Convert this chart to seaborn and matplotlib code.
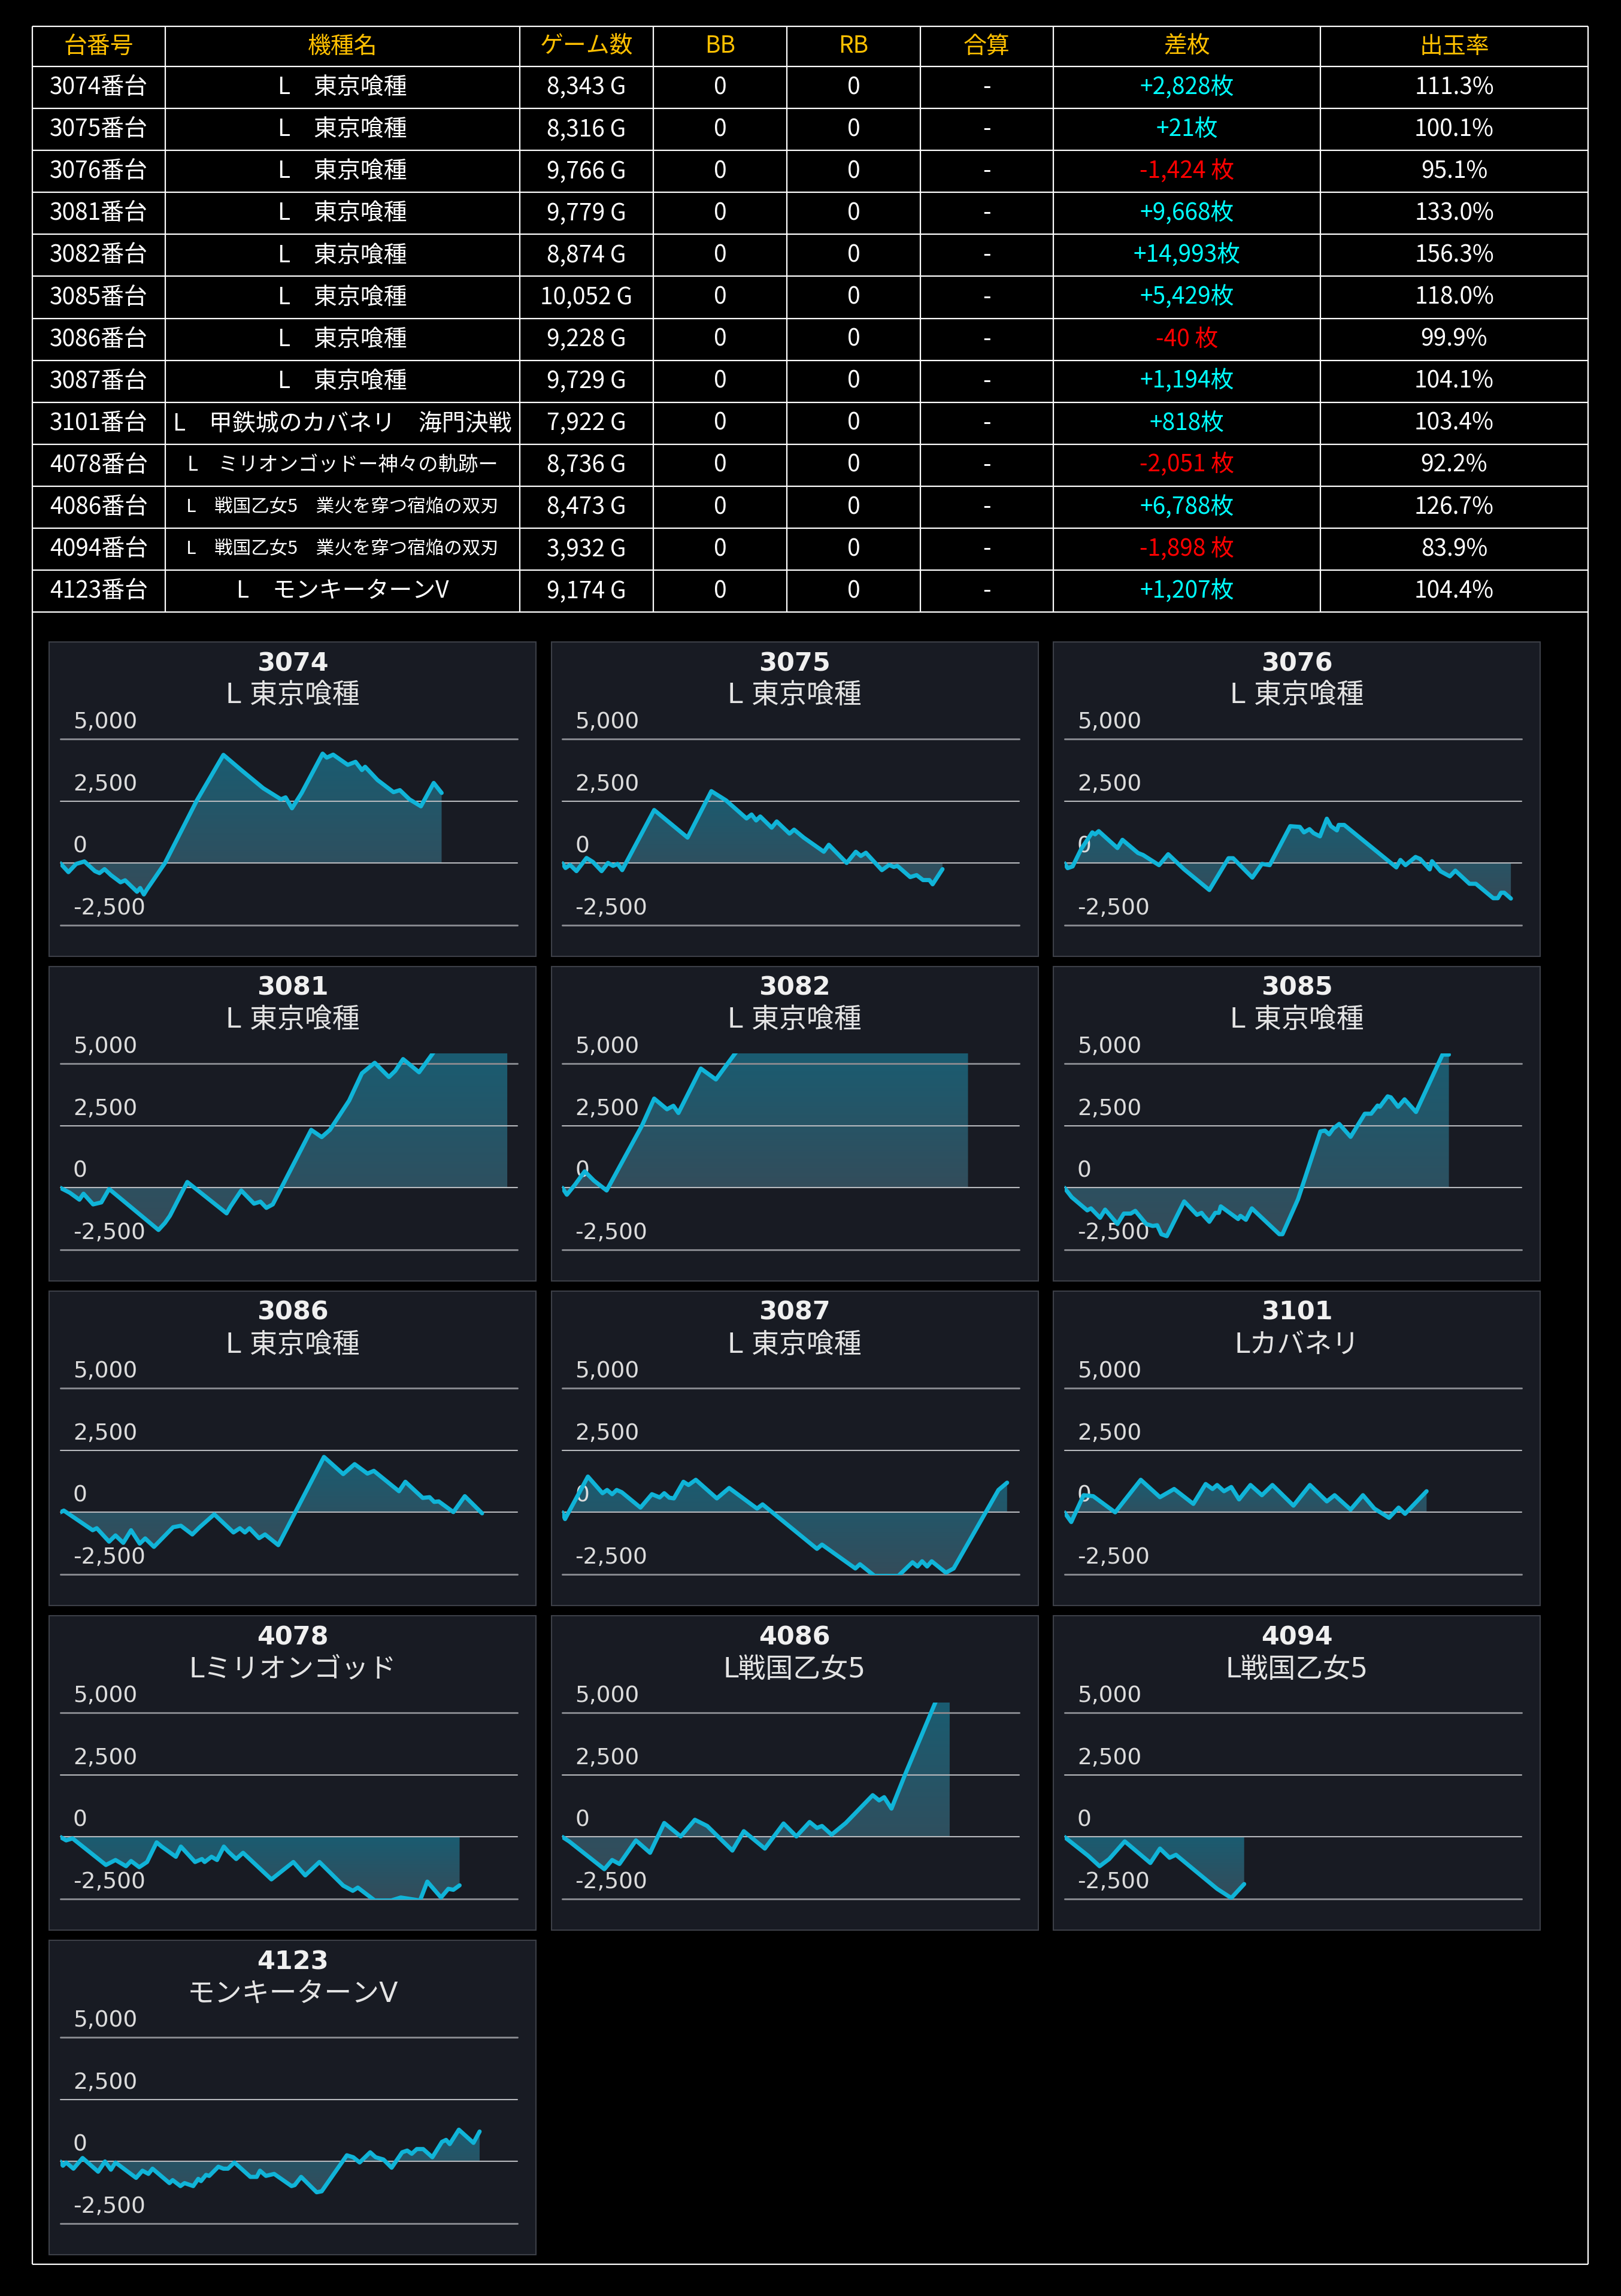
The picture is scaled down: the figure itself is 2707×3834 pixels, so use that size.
import numpy as np
import pandas as pd
import matplotlib
matplotlib.use('Agg')
import matplotlib.pyplot as plt
from matplotlib.patches import Rectangle
from matplotlib.colors import LinearSegmentedColormap
import seaborn as sns

sns.set_theme(style='dark')
plt.rcParams['font.family'] = ['Noto Sans CJK JP', 'DejaVu Sans']

W, H = 2707, 3834

# ---- table data ----
header = ['台番号', '機種名', 'ゲーム数', 'BB', 'RB', '合算', '差枚', '出玉率']
unit_ids = ['3074', '3075', '3076', '3081', '3082', '3085', '3086', '3087',
            '3101', '4078', '4086', '4094', '4123']
model_names = ['L\u3000東京喰種', 'L\u3000東京喰種', 'L\u3000東京喰種', 'L\u3000東京喰種',
               'L\u3000東京喰種', 'L\u3000東京喰種', 'L\u3000東京喰種', 'L\u3000東京喰種',
               'L\u3000甲鉄城のカバネリ\u3000海門決戦',
               'L\u3000ミリオンゴッドー神々の軌跡ー',
               'L\u3000戦国乙女5\u3000業火を穿つ宿焔の双刃',
               'L\u3000戦国乙女5\u3000業火を穿つ宿焔の双刃',
               'L\u3000モンキーターンV']
game_counts = [8343, 8316, 9766, 9779, 8874, 10052, 9228, 9729, 7922, 8736, 8473, 3932, 9174]
bb_counts = [0, 0, 0, 0, 0, 0, 0, 0, 0, 0, 0, 0, 0]
rb_counts = [0, 0, 0, 0, 0, 0, 0, 0, 0, 0, 0, 0, 0]
combined = ['-'] * 13
diff_coins = [2828, 21, -1424, 9668, 14993, 5429, -40, 1194, 818, -2051, 6788, -1898, 1207]
payout_rates = [111.3, 100.1, 95.1, 133.0, 156.3, 118.0, 99.9, 104.1, 103.4, 92.2, 126.7, 83.9, 104.4]

# ---- chart data (x: games, y: coin difference) ----
panel_names = ['L 東京喰種', 'L 東京喰種', 'L 東京喰種', 'L 東京喰種', 'L 東京喰種',
               'L 東京喰種', 'L 東京喰種', 'L 東京喰種', 'Lカバネリ', 'Lミリオンゴッド',
               'L戦国乙女5', 'L戦国乙女5', 'モンキーターンV']

g_3074 = [0, 180, 350, 530, 760, 860, 970, 1110, 1320, 1420, 1680, 1750, 1830, 1900, 2290,
          2990, 3570, 3960, 4440, 4830, 4930, 5070, 5280, 5740, 5830, 5970, 6290, 6460,
          6600, 6670, 6940, 7290, 7430, 7640, 7890, 8170, 8343]
d_3074 = [0, -360, -30, 70, -320, -400, -240, -480, -770, -690, -1150, -1000, -1260, -1050, 0,
          2530, 4360, 3750, 3020, 2570, 2650, 2210, 2820, 4410, 4250, 4370, 3960, 4080,
          3750, 3880, 3350, 2860, 2940, 2570, 2290, 3230, 2828]

g_3075 = [0, 70, 170, 310, 530, 670, 860, 1000, 1110, 1210, 1310, 2010, 2740, 3260, 3580,
          4030, 4140, 4240, 4330, 4580, 4690, 4970, 5070, 5280, 5720, 5830, 6220, 6420,
          6530, 6640, 6990, 7150, 7250, 7330, 7610, 7750, 7890, 8030, 8100, 8316]
d_3075 = [0, -195, -70, -320, 210, 50, -320, 10, -110, -30, -280, 2140, 1030, 2900, 2530,
          1800, 1960, 1720, 1880, 1430, 1680, 1190, 1350, 1030, 460, 740, 10, 460,
          290, 420, -280, -70, -150, -110, -560, -480, -680, -680, -850, -240]

g_3076 = [0, 70, 180, 370, 610, 670, 750, 1160, 1270, 1610, 1720, 2070, 2270, 2620, 3170,
          3590, 3690, 4110, 4320, 4490, 4940, 5150, 5240, 5360, 5450, 5590, 5740, 5830,
          5960, 6000, 6120, 7260, 7350, 7460, 7680, 7780, 7990, 8040, 8230, 8430, 8550,
          8860, 9000, 9380, 9480, 9550, 9620, 9766]
d_3076 = [0, -200, -130, 580, 1240, 1160, 1290, 610, 940, 410, 330, -80, 360, -250, -1080,
          200, 200, -580, -30, -80, 1490, 1460, 1240, 1370, 1210, 1080, 1790, 1490,
          1320, 1540, 1540, -170, 130, -80, 250, 170, -250, 80, -330, -530, -300,
          -830, -830, -1410, -1410, -1190, -1190, -1424]

g_3081 = [0, 210, 420, 510, 720, 900, 1070, 2150, 2290, 2400, 2780, 3640, 3720, 3960, 4240,
          4380, 4510, 4650, 5490, 5720, 5900, 6320, 6600, 6880, 7190, 7330, 7500, 7850,
          8150, 8700, 9250, 9779]
d_3081 = [0, -200, -480, -240, -670, -590, -50, -1700, -1420, -1130, 230, -1030, -770, -110, -640,
          -560, -810, -670, 2330, 2040, 2330, 3510, 4610, 5030, 4460, 4710, 5180, 4650,
          5410, 6900, 8300, 9668]

g_3082 = [0, 100, 280, 490, 690, 970, 1740, 2010, 2290, 2430, 2540, 3030, 3360, 3780,
          5200, 7000, 8874]
d_3082 = [0, -280, 130, 660, 290, -110, 2490, 3590, 3160, 3300, 3010, 4800, 4360, 5410,
          8600, 11800, 14993]

g_3085 = [0, 160, 500, 580, 780, 890, 1160, 1300, 1450, 1550, 1790, 1930, 2030, 2120, 2240,
          2620, 2900, 3000, 3050, 3170, 3300, 3380, 3420, 3800, 3850, 3970, 4100, 4700,
          4770, 5110, 5600, 5700, 5790, 5880, 6010, 6260, 6570, 6710, 6850, 6900, 7070,
          7140, 7300, 7440, 7690, 8270, 8410]
d_3085 = [0, -380, -910, -830, -1210, -880, -1460, -1040, -1040, -930, -1460, -1540, -1510, -1870, -1950,
          -550, -1090, -1010, -1130, -1370, -1010, -1010, -750, -1260, -1130, -1290, -830, -1870,
          -1870, -460, 2270, 2300, 2150, 2380, 2570, 2050, 2980, 2980, 3310, 3260, 3680,
          3640, 3260, 3560, 3050, 5360, 5360]

g_3086 = [0, 80, 710, 800, 1070, 1210, 1380, 1550, 1740, 1860, 2050, 2470, 2640, 2890, 3050,
          3370, 3790, 3930, 4040, 4140, 4350, 4480, 4770, 5770, 6190, 6440, 6720, 6860,
          7410, 7550, 7930, 8080, 8180, 8280, 8600, 8850, 9228]
d_3086 = [0, 70, -720, -640, -1180, -930, -1230, -720, -1260, -1050, -1390, -600, -540, -890, -600,
          -80, -810, -640, -810, -640, -1040, -890, -1320, 2230, 1540, 1940, 1560, 1670,
          850, 1230, 580, 610, 420, 440, 10, 650, -40]

g_3087 = [0, 60, 560, 880, 980, 1090, 1190, 1300, 1710, 1960, 2130, 2230, 2340, 2440, 2650,
          2760, 2920, 3380, 3650, 4260, 4380, 5570, 5680, 6410, 6510, 6830, 7090, 7350,
          7660, 7770, 7870, 7980, 8080, 8390, 8560, 9540, 9729]
d_3087 = [0, -270, 1440, 770, 900, 730, 900, 810, 190, 730, 600, 770, 590, 560, 1230,
          1100, 1310, 560, 980, 150, 320, -1470, -1300, -2260, -2090, -2560, -2560, -2560,
          -2010, -2180, -1970, -2180, -1970, -2430, -2260, 900, 1194]

g_3101 = [0, 150, 420, 630, 1110, 1670, 2090, 2400, 2820, 3090, 3240, 3340, 3490, 3650, 3820,
          4070, 4320, 4550, 5010, 5370, 5740, 5910, 6260, 6530, 6780, 7100, 7310, 7450, 7922]
d_3101 = [0, -390, 690, 650, 0, 1310, 610, 940, 340, 1140, 940, 1100, 850, 1020, 520,
          1100, 690, 1100, 270, 1100, 440, 690, 110, 690, 150, -220, 190, -60, 850]

g_4078 = [0, 130, 270, 1000, 1210, 1440, 1550, 1730, 1900, 2110, 2220, 2530, 2640, 2950, 3100,
          3160, 3310, 3430, 3580, 3680, 3850, 4000, 4620, 5100, 5360, 5670, 6190, 6400,
          6510, 6880, 7240, 7450, 7870, 8030, 8330, 8490, 8600, 8736]
d_4078 = [0, -140, -60, -1130, -930, -1180, -970, -1220, -1010, -220, -390, -800, -390, -1010, -890,
          -1010, -800, -930, -390, -600, -890, -640, -1710, -1010, -1550, -1010, -1960, -2170,
          -2040, -2560, -2560, -2440, -2560, -1800, -2440, -2090, -2130, -1950]

g_4086 = [0, 150, 920, 1090, 1250, 1610, 1920, 2230, 2590, 2900, 3170, 3720, 3970, 4430, 4840,
          5120, 5410, 5570, 5680, 5890, 6200, 6790, 6930, 7040, 7200, 7500, 8473]
d_4086 = [0, -180, -1300, -930, -1090, -140, -640, 560, 20, 690, 440, -550, 230, -470, 540,
          20, 600, 360, 440, 90, 560, 1680, 1470, 1600, 1140, 2520, 6788]

g_4094 = [0, 520, 770, 980, 1320, 1880, 2090, 2300, 2440, 2820, 3340, 3650, 3932]
d_4094 = [0, -760, -1180, -890, -180, -1050, -470, -840, -720, -1300, -2090, -2460, -1898]

g_4123 = [0, 60, 130, 290, 490, 830, 980, 1110, 1210, 1660, 1800, 1930, 2020, 2390, 2460,
          2630, 2720, 2910, 3020, 3080, 3190, 3260, 3460, 3570, 3670, 3810, 4160, 4300,
          4370, 4500, 4680, 5060, 5130, 5270, 5610, 5720, 6270, 6410, 6550, 6780, 6900,
          7070, 7250, 7480, 7590, 7690, 7800, 7940, 8140, 8350, 8440, 8520, 8720, 9040, 9174]
d_4123 = [0, -170, -40, -290, 140, -410, 0, -330, -40, -660, -370, -500, -290, -870, -750,
          -990, -870, -990, -700, -790, -540, -580, -210, -290, -290, -40, -620, -620,
          -370, -580, -500, -990, -950, -620, -1240, -1200, 250, 170, -40, 370, 170,
          80, -250, 370, 440, 310, 500, 500, 170, 790, 870, 700, 1280, 750, 1207]

series = {
    '3074': (g_3074, d_3074), '3075': (g_3075, d_3075), '3076': (g_3076, d_3076),
    '3081': (g_3081, d_3081), '3082': (g_3082, d_3082), '3085': (g_3085, d_3085),
    '3086': (g_3086, d_3086), '3087': (g_3087, d_3087), '3101': (g_3101, d_3101),
    '4078': (g_4078, d_4078), '4086': (g_4086, d_4086), '4094': (g_4094, d_4094),
    '4123': (g_4123, d_4123),
}
y_ticks = [5000, 2500, 0, -2500]
X_MAX = 10000
Y_LIM = (-2530, 5420)

# colours
LINE = '#10b4d8'
PANEL_BG = '#181b23'
fill_cmap = LinearSegmentedColormap.from_list('fill', ['#344c5a', '#1a5c71'])

fig = plt.figure(figsize=(W / 100, H / 100), dpi=100, facecolor='black')

# overlay in pixel coordinates for table and panel boxes
ov = fig.add_axes([0, 0, 1, 1])
ov.set_xlim(0, W)
ov.set_ylim(H, 0)
ov.set_axis_off()

col_edges = [54, 276, 868, 1091, 1314, 1537, 1759, 2205, 2652]
row_edges = [44, 111] + [111 + 70.1 * i for i in range(1, 14)]
ov.hlines(row_edges, col_edges[0], col_edges[-1], color='white', lw=1.6)
ov.vlines(col_edges, row_edges[0], row_edges[-1], color='white', lw=1.6)
ov.vlines([col_edges[0], col_edges[-1]], row_edges[-1], 3781, color='white', lw=1.6)
ov.hlines(3781, col_edges[0], col_edges[-1], color='white', lw=1.6)

col_mid = [(a + b) / 2 for a, b in zip(col_edges[:-1], col_edges[1:])]
for j, h in enumerate(header):
    ov.text(col_mid[j], (row_edges[0] + row_edges[1]) / 2, h, ha='center', va='center',
            color='#ffc000', fontsize=28)

name_sizes = {'4078': 24, '4086': 22, '4094': 22}
for i, uid in enumerate(unit_ids):
    yc = (row_edges[i + 1] + row_edges[i + 2]) / 2
    dv = diff_coins[i]
    dtxt = f'+{dv:,}枚' if dv >= 0 else f'{dv:,} 枚'
    dcol = '#00ffff' if dv >= 0 else '#ff0000'
    cells = [(f'{uid}番台', 'white', 28),
             (model_names[i], 'white', name_sizes.get(uid, 28)),
             (f'{game_counts[i]:,} G', 'white', 28),
             (str(bb_counts[i]), 'white', 28),
             (str(rb_counts[i]), 'white', 28),
             (combined[i], 'white', 28),
             (dtxt, dcol, 28),
             (f'{payout_rates[i]:.1f}%', 'white', 28)]
    for j, (txt, colr, fs) in enumerate(cells):
        ov.text(col_mid[j], yc, txt, ha='center', va='center', color=colr, fontsize=fs)

# ---- small charts ----
PW, PH = 813, 525
for k, uid in enumerate(unit_ids):
    r, c = divmod(k, 3)
    left = 82 + c * 838.5
    top = 1072 + r * 542
    ov.add_patch(Rectangle((left, top), PW, PH, facecolor=PANEL_BG, edgecolor='#3c3f47', lw=1.5))
    fig.text((left + PW / 2) / W, 1 - (top + 36) / H, uid, ha='center', va='center',
             family='DejaVu Sans', weight='bold', fontsize=31, color='#f0f0f0')
    fig.text((left + PW / 2) / W, 1 - (top + 90) / H, panel_names[k], ha='center', va='center',
             family=['DejaVu Sans', 'Noto Sans CJK JP'], fontsize=33, color='#e4e4e4')

    ax = fig.add_axes([(left + 18.5) / W, 1 - (top + 474.3) / H, 763.5 / W, (474.3 - 144.6) / H])
    ax.set_facecolor('none')

    games, diffs = series[uid]
    df = pd.DataFrame({'game': games, 'diff': diffs})

    # gradient area between the curve and zero
    area = ax.fill_between(df['game'], df['diff'], 0, facecolor='none', edgecolor='none')
    lo = max(min(diffs), Y_LIM[0])
    hi = min(max(diffs), Y_LIM[1])
    grad = ax.imshow(np.linspace(0, 1, 256).reshape(-1, 1), cmap=fill_cmap, origin='lower',
                     extent=[0, max(games), lo, hi], aspect='auto', zorder=1)
    grad.set_clip_path(area.get_paths()[0], ax.transData)

    for v in y_ticks:
        outer = v in (y_ticks[0], y_ticks[-1])
        ax.axhline(v, color='#85878d' if outer else '#b8babe', lw=2.2 if outer else 1.5,
                   zorder=2, clip_on=False)
        ax.annotate(f'{v:,}', xy=(0.028, v), xycoords=('axes fraction', 'data'),
                    xytext=(0, 7), textcoords='offset points', ha='left', va='bottom',
                    family='DejaVu Sans', fontsize=27, color='#dcdcdc', annotation_clip=False)

    sns.lineplot(data=df, x='game', y='diff', ax=ax, color=LINE, linewidth=5,
                 sort=False, estimator=None, zorder=3)
    ax.set_xlim(0, X_MAX)
    ax.set_ylim(*Y_LIM)
    ax.set_axis_off()

fig.savefig('out.png', dpi=100, facecolor='black')
